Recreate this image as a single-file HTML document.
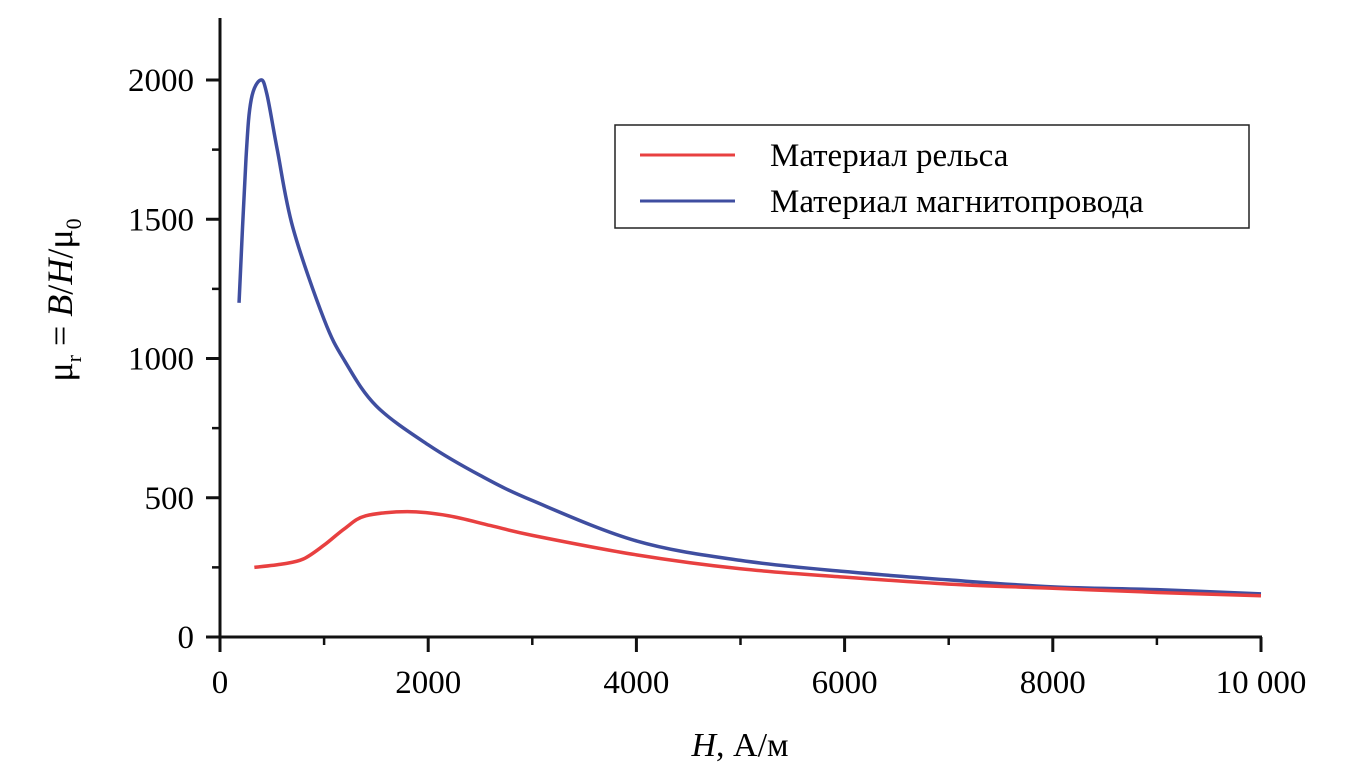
<!DOCTYPE html>
<html><head><meta charset="utf-8"><style>
body{margin:0;background:#fff;}
svg{display:block;font-family:"Liberation Serif",serif;}
</style></head><body>
<svg id="chart" width="1371" height="774" viewBox="0 0 1371 774">
<g id="axes"></g>
<g id="series"></g>
<g>
<rect x="615" y="125" width="634" height="103" fill="#fff" stroke="#222" stroke-width="1.5"/>
<line x1="640" y1="155" x2="735" y2="155" stroke="#e84040" stroke-width="3"/>
<text x="770" y="166" font-size="33">Материал рельса</text>
<line x1="640" y1="201" x2="735" y2="201" stroke="#3f4ea0" stroke-width="3"/>
<text x="770" y="212" font-size="33">Материал магнитопровода</text>
</g>
<text x="740" y="756" font-size="34" text-anchor="middle"><tspan font-style="italic">H</tspan>, А/м</text>
<text transform="translate(72,300) rotate(-90)" font-size="36" text-anchor="middle">μ<tspan font-size="22" dy="9">r</tspan><tspan dy="-9"> = </tspan><tspan font-style="italic">B</tspan>/<tspan font-style="italic">H</tspan>/μ<tspan font-size="22" dy="9">0</tspan></text>
</svg>
<script>
const xTicks=[0,2000,4000,6000,8000,10000];
const xTickLabels=["0","2000","4000","6000","8000","10 000"];
const yTicks=[0,500,1000,1500,2000];
const yTickLabels=["0","500","1000","1500","2000"];
const railH=[330,600,800,1000,1200,1400,1800,2200,2600,3000,4000,5000,6000,7000,8000,9000,10000];
const railMu=[250,262,280,330,390,435,450,435,400,365,295,245,215,190,175,160,148];
const coreH=[183,250,300,390,450,550,700,1000,1200,1500,2000,2500,3000,4000,5000,6000,7000,8000,9000,10000];
const coreMu=[1200,1720,1930,2000,1950,1750,1470,1140,990,830,690,580,490,345,275,235,205,180,170,155];
const X=v=>220+v*(1261-220)/10000;
const Y=v=>637-v*(637-80)/2000;
const NS="http://www.w3.org/2000/svg";
const ax=document.getElementById('axes');
function mk(tag,attrs,parent){const e=document.createElementNS(NS,tag);for(const k in attrs)e.setAttribute(k,attrs[k]);parent.appendChild(e);return e;}
let e=mk('line',{x1:220,y1:18,x2:220,y2:639,stroke:'#111','stroke-width':3},ax);


e=mk('line',{x1:206,y1:637,x2:1262,y2:637,stroke:'#111','stroke-width':3},ax);


for(let i=0;i<xTicks.length;i++){
 const x=X(xTicks[i]);
 e=mk('line',{x1:x,y1:637,x2:x,y2:652,stroke:'#111','stroke-width':3},ax);
 
 
 if(i<xTicks.length-1){const xm=X((xTicks[i]+xTicks[i+1])/2);
 e=mk('line',{x1:xm,y1:637,x2:xm,y2:645,stroke:'#111','stroke-width':2.5},ax);
 
 }
 e=mk('text',{x:x,y:693,'font-size':33,'text-anchor':'middle'},ax);e.textContent=xTickLabels[i];
 
 
}
for(let i=0;i<yTicks.length;i++){
 const y=Y(yTicks[i]);
 e=mk('line',{x1:206,y1:y,x2:220,y2:y,stroke:'#111','stroke-width':3},ax);
 
 
 if(i<yTicks.length-1){const ym=Y(yTicks[i]+250);
 e=mk('line',{x1:212,y1:ym,x2:220,y2:ym,stroke:'#111','stroke-width':2.5},ax);
 
 }
 e=mk('text',{x:194,y:y+11,'font-size':33,'text-anchor':'end'},ax);e.textContent=yTickLabels[i];
 
 
}
function smooth(xs,ys){
 const p=xs.map((h,i)=>[X(h),Y(ys[i])]);
 let d=`M${p[0][0]},${p[0][1]}`;
 for(let i=0;i<p.length-1;i++){
  const p0=p[i-1]||p[i],p1=p[i],p2=p[i+1],p3=p[i+2]||p2;
  d+=` C${p1[0]+(p2[0]-p0[0])/6},${p1[1]+(p2[1]-p0[1])/6} ${p2[0]-(p3[0]-p1[0])/6},${p2[1]-(p3[1]-p1[1])/6} ${p2[0]},${p2[1]}`;
 }
 return d;
}
const sg=document.getElementById('series');
e=mk('path',{d:smooth(coreH,coreMu),fill:'none',stroke:'#3f4ea0','stroke-width':3.5},sg);


e=mk('path',{d:smooth(railH,railMu),fill:'none',stroke:'#e84040','stroke-width':3.5},sg);


</script>
</body></html>
